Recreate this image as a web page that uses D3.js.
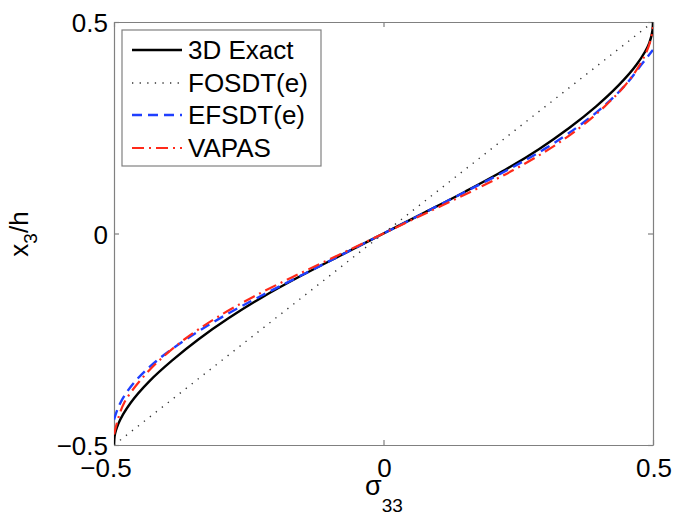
<!DOCTYPE html>
<html>
<head>
<meta charset="utf-8">
<script src="https://cdn.jsdelivr.net/npm/d3@7"></script>
<style>
  html, body { margin: 0; padding: 0; background: #fff; }
  text { font-family: "Liberation Sans", Arial, Helvetica, sans-serif; fill: #000; }
</style>
</head>
<body>
<svg id="chart" width="673" height="517"></svg>
<script>
// ---- data ----
const seriesNames = ["3D Exact", "FOSDT(e)", "EFSDT(e)", "VAPAS"];

const exactZ = [-0.5,-0.48,-0.45,-0.4,-0.35,-0.3,-0.25,-0.2,-0.15,-0.1,-0.05,0,0.05,0.1,0.15,0.2,0.25,0.3,0.35,0.4,0.45,0.48,0.5];
const exactSigma = [-0.5,-0.499,-0.492,-0.469,-0.435,-0.392,-0.343,-0.287,-0.224,-0.153,-0.077,0,0.077,0.153,0.225,0.289,0.345,0.394,0.436,0.470,0.493,0.499,0.5];

const fosdtZ = [-0.5, 0, 0.5];
const fosdtSigma = [-0.5, 0, 0.5];

const efsdtZ = [-0.44,-0.4,-0.35,-0.3,-0.25,-0.2,-0.15,-0.1,-0.05,0,0.05,0.1,0.15,0.2,0.25,0.3,0.35,0.4,0.434];
const efsdtSigma = [-0.5,-0.488,-0.461,-0.420,-0.366,-0.303,-0.231,-0.154,-0.077,0,0.077,0.154,0.230,0.299,0.358,0.408,0.448,0.479,0.5];

const vapasZ = [-0.475,-0.45,-0.4,-0.35,-0.3,-0.25,-0.2,-0.15,-0.1,-0.05,0,0.05,0.1,0.15,0.2,0.25,0.3,0.35,0.4,0.45,0.488];
const vapasSigma = [-0.5,-0.495,-0.481,-0.453,-0.416,-0.369,-0.311,-0.242,-0.164,-0.082,0,0.082,0.164,0.241,0.308,0.364,0.410,0.448,0.476,0.494,0.5];

const xTicks = [-0.5, 0, 0.5];
const yTicks = [-0.5, 0, 0.5];
const xTickLabels = ["\u22120.5", "0", "0.5"];
const yTickLabels = ["\u22120.5", "0", "0.5"];

// ---- layout ----
const svg = d3.select("#chart");
const L = 114, R = 653, T = 22, B = 445;
const x = d3.scaleLinear().domain([-0.5, 0.5]).range([L, R]);
const y = d3.scaleLinear().domain([-0.5, 0.5]).range([B, T]);
const axisColor = "#808080";

svg.append("defs").append("clipPath").attr("id", "clip")
  .append("rect").attr("x", L).attr("y", T).attr("width", R - L).attr("height", B - T);

// axes (box with inward ticks on all sides)
const tickLen = 5;
const gx = svg.append("g").attr("transform", `translate(0,${B})`)
  .call(d3.axisBottom(x).tickValues(xTicks).tickSizeInner(-tickLen).tickSizeOuter(0).tickFormat(""));
const gxt = svg.append("g").attr("transform", `translate(0,${T})`)
  .call(d3.axisTop(x).tickValues(xTicks).tickSizeInner(-tickLen).tickSizeOuter(0).tickFormat(""));
const gy = svg.append("g").attr("transform", `translate(${L},0)`)
  .call(d3.axisLeft(y).tickValues(yTicks).tickSizeInner(-tickLen).tickSizeOuter(0).tickFormat(""));
const gyr = svg.append("g").attr("transform", `translate(${R},0)`)
  .call(d3.axisRight(y).tickValues(yTicks).tickSizeInner(-tickLen).tickSizeOuter(0).tickFormat(""));
[gx, gxt, gy, gyr].forEach(g => {
  g.selectAll("path.domain").attr("stroke", axisColor).attr("stroke-width", 1.2);
  g.selectAll(".tick line").attr("stroke", axisColor).attr("stroke-width", 1.2);
});

// tick labels
svg.append("g").selectAll("text").data(xTicks).join("text")
  .attr("x", d => x(d) + (d < 0 ? -8 : 1))
  .attr("y", 477)
  .attr("text-anchor", "middle")
  .attr("font-size", 26)
  .text((d, i) => xTickLabels[i]);
svg.append("g").selectAll("text").data(yTicks).join("text")
  .attr("x", 108)
  .attr("y", d => y(d) + 10)
  .attr("text-anchor", "end")
  .attr("font-size", 26)
  .text((d, i) => yTickLabels[i]);

// axis titles
const xl = svg.append("text").attr("x", 384).attr("y", 495).attr("text-anchor", "middle").attr("font-size", 27);
xl.append("tspan").text("\u03C3");
xl.append("tspan").attr("font-size", 19).attr("dy", 17).text("33");
const yl = svg.append("text").attr("transform", "translate(28,234) rotate(-90)").attr("text-anchor", "middle").attr("font-size", 26);
yl.append("tspan").text("x");
yl.append("tspan").attr("font-size", 19).attr("dy", 9).text("3");
yl.append("tspan").attr("dy", -9).text("/h");

// lines
const line = d3.line().x(d => x(d[0])).y(d => y(d[1])).curve(d3.curveMonotoneY);
const styles = [
  { sig: exactSigma, z: exactZ, color: "#000000", width: 2.4, dash: null },
  { sig: fosdtSigma, z: fosdtZ, color: "#333333", width: 1.4, dash: "1.3,6.3" },
  { sig: efsdtSigma, z: efsdtZ, color: "#1f3fff", width: 2.4, dash: "10,6" },
  { sig: vapasSigma, z: vapasZ, color: "#ff2a1a", width: 2.2, dash: "12,5,2,5" }
];
const plot = svg.append("g").attr("clip-path", "url(#clip)");
styles.forEach(s => {
  const pts = s.z.map((zz, i) => [s.sig[i], zz]);
  plot.append("path").datum(pts)
    .attr("d", line)
    .attr("fill", "none")
    .attr("stroke", s.color)
    .attr("stroke-width", s.width)
    .attr("stroke-dasharray", s.dash);
});

// legend
const lg = svg.append("g");
lg.append("rect").attr("x", 122).attr("y", 30).attr("width", 199).attr("height", 136)
  .attr("fill", "#fff").attr("stroke", axisColor).attr("stroke-width", 1.2);
const rowY = [50, 83, 115, 148];
styles.forEach((s, i) => {
  lg.append("line").attr("x1", 132).attr("x2", 182).attr("y1", rowY[i]).attr("y2", rowY[i])
    .attr("stroke", s.color).attr("stroke-width", s.width).attr("stroke-dasharray", s.dash);
  lg.append("text").attr("x", 188).attr("y", rowY[i] + 9).attr("font-size", 26).text(seriesNames[i]);
});
</script>
</body>
</html>
